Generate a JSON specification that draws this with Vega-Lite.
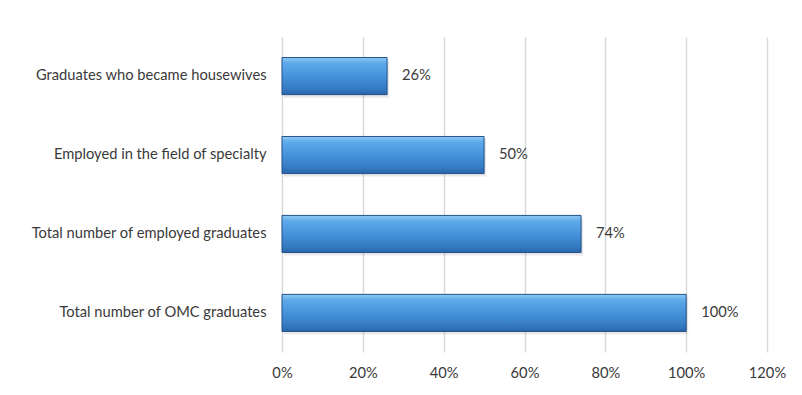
{
  "$schema": "https://vega.github.io/schema/vega-lite/v6.json",
  "width": 485,
  "height": 315,
  "padding": {"left": 0, "top": 37, "right": 35, "bottom": 10},
  "background": "white",
  "config": {
    "view": {"stroke": null},
    "font": "Lato",
    "axis": {"labelFont": "Lato", "labelColor": "#3a3a3a", "labelFontSize": 14.7}
  },
  "data": {
    "values": [
      {"category": "Graduates who became housewives", "share": 0.26},
      {"category": "Employed in the field of specialty", "share": 0.50},
      {"category": "Total number of employed graduates", "share": 0.74},
      {"category": "Total number of OMC graduates", "share": 1.00}
    ]
  },
  "encoding": {
    "y": {
      "field": "category",
      "type": "nominal",
      "sort": null,
      "scale": {"paddingInner": 0.53, "paddingOuter": 0.26},
      "axis": {
        "title": null,
        "ticks": false,
        "domain": false,
        "labelPadding": 16,
        "labelLimit": 0,
        "minExtent": 282,
        "maxExtent": 282
      }
    },
    "x": {
      "field": "share",
      "type": "quantitative",
      "scale": {"domain": [0, 1.2], "nice": false},
      "axis": {
        "title": null,
        "format": ".0%",
        "values": [0, 0.2, 0.4, 0.6, 0.8, 1.0, 1.2],
        "grid": true,
        "gridColor": "#d9d9d9",
        "gridWidth": 1.5,
        "domain": false,
        "ticks": false,
        "labelFlush": false,
        "labelPadding": 13
      }
    }
  },
  "layer": [
    {
      "mark": {"type": "bar", "fill": "#9a9a9a", "opacity": 0.22, "yOffset": 3, "xOffset": 2}
    },
    {
      "mark": {
        "type": "bar",
        "fill": {
          "gradient": "linear",
          "x1": 0, "y1": 0, "x2": 0, "y2": 1,
          "stops": [
            {"offset": 0, "color": "#8fcaf3"},
            {"offset": 0.15, "color": "#5eaaea"},
            {"offset": 0.5, "color": "#4593da"},
            {"offset": 0.85, "color": "#3479c2"},
            {"offset": 1, "color": "#2a64a6"}
          ]
        },
        "stroke": "#24508a",
        "strokeWidth": 1
      }
    },
    {
      "mark": {"type": "text", "align": "left", "dx": 15, "fontSize": 14.7, "color": "#3a3a3a", "font": "Lato"},
      "encoding": {
        "text": {"field": "share", "type": "quantitative", "format": ".0%"}
      }
    }
  ]
}
